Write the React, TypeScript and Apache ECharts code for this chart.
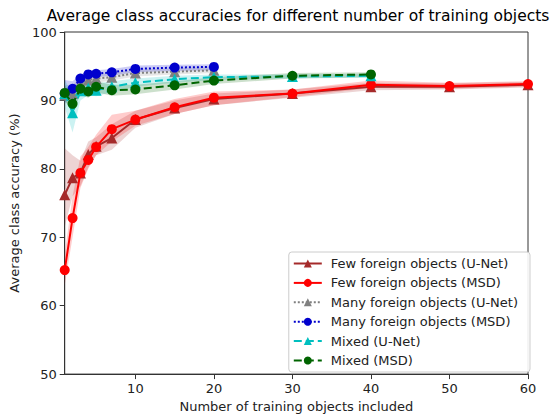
import React, { useEffect, useRef } from "react";
import * as echarts from "echarts";

const xs = [1, 2, 3, 4, 5, 7, 10, 15, 20, 30, 40, 50, 60];
const xsShort = [1, 2, 3, 4, 5, 7, 10, 15, 20];
const xsMixed = [1, 2, 3, 4, 5, 7, 10, 15, 20, 30, 40];

const fewUnet = [76.2, 78.7, 79.4, 82.1, 83.3, 84.5, 87.2, 88.9, 90.2, 91.0, 92.0, 92.0, 92.3];
const fewUnetLo = [71.5, 76.0, 77.5, 80.2, 82.0, 82.8, 86.0, 88.0, 89.3, 90.4, 91.5, 91.6, 91.9];
const fewUnetHi = [83.0, 82.0, 81.2, 84.0, 84.6, 86.5, 88.5, 90.0, 91.0, 91.6, 92.6, 92.5, 92.7];

const fewMsd = [65.2, 72.8, 79.4, 81.3, 83.2, 85.8, 87.2, 89.0, 90.4, 91.0, 92.3, 92.1, 92.4];
const fewMsdLo = [63.0, 70.0, 77.2, 80.0, 82.0, 84.0, 86.3, 88.0, 89.3, 90.5, 91.8, 91.7, 92.0];
const fewMsdHi = [67.5, 76.0, 81.8, 83.2, 85.0, 87.9, 88.5, 90.2, 91.3, 91.6, 92.9, 92.6, 92.8];

const manyUnet = [90.8, 91.0, 92.6, 93.0, 93.2, 93.4, 94.0, 94.2, 94.4];
const manyUnetLo = [89.5, 89.8, 91.8, 92.3, 92.6, 92.9, 93.5, 93.8, 94.0];
const manyUnetHi = [92.2, 92.3, 93.4, 93.7, 93.8, 94.0, 94.5, 94.7, 94.9];

const manyMsd = [91.0, 91.7, 93.2, 93.8, 93.9, 94.1, 94.6, 94.8, 94.9];
const manyMsdLo = [89.6, 90.8, 92.6, 93.2, 93.4, 93.6, 94.1, 94.3, 94.4];
const manyMsdHi = [93.0, 92.8, 93.8, 94.3, 94.4, 94.6, 95.1, 95.2, 95.3];

const mixedUnet = [91.0, 88.2, 91.4, 91.8, 91.5, 92.0, 92.6, 93.1, 93.4, 93.5, 93.6];
const mixedUnetLo = [89.0, 85.3, 90.0, 90.8, 90.6, 91.2, 92.0, 92.6, 93.0, 93.2, 93.3];
const mixedUnetHi = [93.0, 91.0, 92.6, 92.8, 92.5, 92.8, 93.2, 93.6, 93.8, 93.8, 93.9];

const mixedMsd = [91.1, 89.5, 91.7, 91.3, 92.0, 91.5, 91.6, 92.2, 92.9, 93.6, 93.8];
const mixedMsdLo = [90.0, 88.3, 90.8, 90.4, 91.2, 90.7, 90.9, 91.6, 92.4, 93.2, 93.4];
const mixedMsdHi = [92.2, 90.7, 92.6, 92.2, 92.8, 92.3, 92.3, 92.8, 93.4, 94.0, 94.1];

const xTicks = [10, 20, 30, 40, 50, 60];

const FONT = "DejaVu Sans";

function pairs(x: number[], y: number[]) {
  return x.map((v, i) => [v, y[i]]);
}

function band(name: string, x: number[], lo: number[], hi: number[], color: string) {
  return {
    type: "custom",
    name: name + "-band",
    silent: true,
    clip: true,
    z: 1,
    data: x.map((v, i) => [v, lo[i], hi[i]]),
    renderItem: (params: any, api: any) => {
      if (params.dataIndex !== 0) return null;
      const up = x.map((v, i) => api.coord([v, hi[i]]));
      const dn = x.map((v, i) => api.coord([v, lo[i]])).reverse();
      return {
        type: "polygon",
        shape: { points: up.concat(dn) },
        style: { fill: color, stroke: "none" },
      };
    },
  };
}

function line(name: string, x: number[], y: number[], color: string, symbol: string, ltype: string, z: number) {
  return {
    type: "line",
    name,
    data: pairs(x, y),
    symbol,
    symbolSize: symbol === "circle" ? 10 : 11,
    showSymbol: true,
    z,
    lineStyle: { color, width: 2, type: ltype },
    itemStyle: { color },
  };
}

export default function App() {
  const ref = useRef<HTMLDivElement>(null);
  useEffect(() => {
    const chart = echarts.init(ref.current!, undefined, { renderer: "svg" });
    chart.setOption({
      animation: false,
      backgroundColor: "#fff",
      textStyle: { fontFamily: FONT },
      title: {
        text: "Average class accuracies for different number of training objects",
        left: 293,
        textAlign: "center",
        top: 3,
        textStyle: { fontFamily: FONT, fontSize: 15.5, fontWeight: "normal", color: "#000" },
      },
      grid: { left: 64, right: 22, top: 32, bottom: 40, show: true, borderColor: "#333", borderWidth: 1 },
      legend: {
        right: 20,
        bottom: 46,
        orient: "vertical",
        data: [
          "Few foreign objects (U-Net)",
          "Few foreign objects (MSD)",
          "Many foreign objects (U-Net)",
          "Many foreign objects (MSD)",
          "Mixed (U-Net)",
          "Mixed (MSD)",
        ],
        itemWidth: 28,
        itemHeight: 10,
        itemGap: 6.4,
        padding: [5, 12, 5, 4],
        borderColor: "#ccc",
        borderWidth: 1,
        borderRadius: 3,
        backgroundColor: "rgba(255,255,255,0.9)",
        textStyle: { fontFamily: FONT, fontSize: 13, lineHeight: 13, color: "#222", padding: [0, 0, 0, 4] },
      },
      xAxis: {
        type: "value",
        min: 1,
        max: 60,
        name: "Number of training objects included",
        nameLocation: "middle",
        nameGap: 25,
        nameTextStyle: { fontFamily: FONT, fontSize: 13, color: "#222" },
        splitLine: { show: false },
        axisLine: { show: true, onZero: false, lineStyle: { color: "#333" } },
        axisTick: { show: true, inside: false, length: 5, customValues: xTicks, lineStyle: { color: "#333" } },
        axisLabel: { customValues: xTicks, fontFamily: FONT, fontSize: 13, color: "#222", margin: 8 },
      },
      yAxis: {
        type: "value",
        min: 50,
        max: 100,
        interval: 10,
        name: "Average class accuracy (%)",
        nameLocation: "middle",
        nameGap: 42,
        nameTextStyle: { fontFamily: FONT, fontSize: 13, color: "#222" },
        splitLine: { show: false },
        axisLine: { show: true, lineStyle: { color: "#333" } },
        axisTick: { show: true, inside: false, length: 5, lineStyle: { color: "#333" } },
        axisLabel: { fontFamily: FONT, fontSize: 13, color: "#222", margin: 8 },
      },
      series: [
        band("fewUnet", xs, fewUnetLo, fewUnetHi, "rgba(165,42,42,0.2)"),
        band("fewMsd", xs, fewMsdLo, fewMsdHi, "rgba(255,0,0,0.2)"),
        band("manyUnet", xsShort, manyUnetLo, manyUnetHi, "rgba(128,128,128,0.2)"),
        band("manyMsd", xsShort, manyMsdLo, manyMsdHi, "rgba(0,0,205,0.2)"),
        band("mixedUnet", xsMixed, mixedUnetLo, mixedUnetHi, "rgba(0,191,191,0.2)"),
        band("mixedMsd", xsMixed, mixedMsdLo, mixedMsdHi, "rgba(0,100,0,0.2)"),
        line("Few foreign objects (U-Net)", xs, fewUnet, "#a52a2a", "triangle", "solid", 3),
        line("Few foreign objects (MSD)", xs, fewMsd, "#ff0000", "circle", "solid", 4),
        line("Many foreign objects (U-Net)", xsShort, manyUnet, "#808080", "triangle", "dotted", 5),
        line("Many foreign objects (MSD)", xsShort, manyMsd, "#0000cd", "circle", "dotted", 6),
        line("Mixed (U-Net)", xsMixed, mixedUnet, "#00bfbf", "triangle", "dashed", 7),
        line("Mixed (MSD)", xsMixed, mixedMsd, "#006400", "circle", "dashed", 8),
      ],
    });
    return () => chart.dispose();
  }, []);
  return <div ref={ref} style={{ width: 550, height: 418, position: "fixed", left: 0, top: 0 }} />;
}
